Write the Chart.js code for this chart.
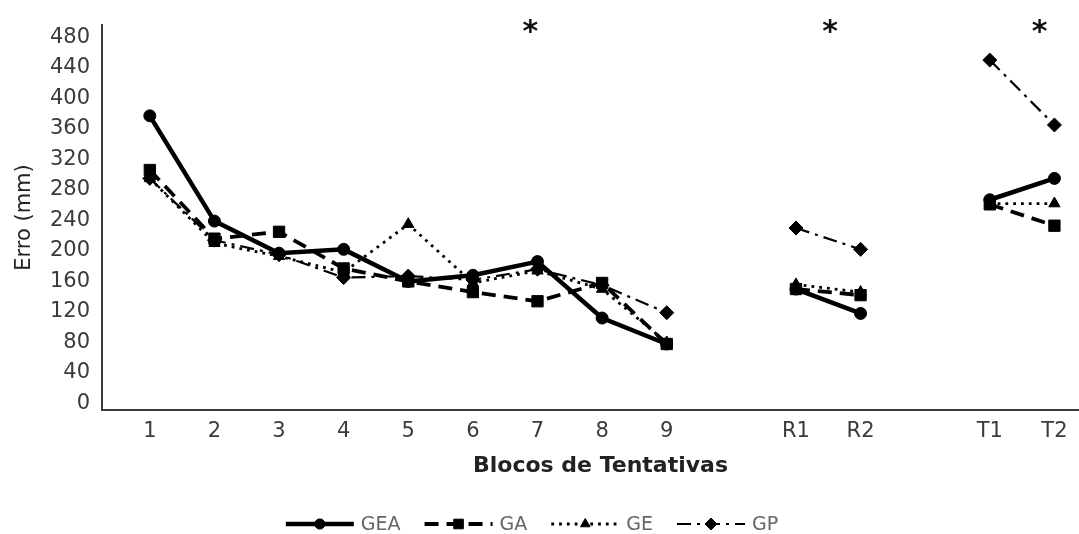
<!DOCTYPE html>
<html>
<head>
<meta charset="utf-8">
<script src="https://cdn.jsdelivr.net/npm/chart.js@4.4.1/dist/chart.umd.min.js"></script>
<style>
  html, body { margin: 0; padding: 0; background: #fff; overflow: hidden; }
  #wrap { position: relative; width: 1108px; height: 534px; }
</style>
</head>
<body>
<div id="wrap"><canvas id="chart"></canvas></div>
<script>
// Blocks of trials (blank slots separate acquisition, retention and transfer)
const blockLabels = ['1', '2', '3', '4', '5', '6', '7', '8', '9', '', 'R1', 'R2', '', 'T1', 'T2'];

// Mean error (mm) per group
const errorGEA = [377, 239, 197, 202, 160, 168, 186, 112, 78, null, 150, 118, null, 267, 295];
const errorGA  = [306, 216, 225, 177, 160, 146, 134, 158, 78, null, 150, 142, null, 261, 233];
const errorGE  = [295, 210, 193, 172, 235, 158, 174, 150, 80, null, 156, 146, null, 262, 262];
const errorGP  = [295, 214, 195, 165, 167, 162, 176, 155, 119, null, 230, 202, null, 450, 365];

const groupNames = ['GEA', 'GA', 'GE', 'GP'];
const yTicks = [0, 40, 80, 120, 160, 200, 240, 280, 320, 360, 400, 440, 480];

// Significant differences, placed along the block axis
const significance = [
  { at: 6.89, text: '*' },
  { at: 11.53, text: '*' },
  { at: 14.77, text: '*' }
];

const toPoints = arr => arr.map((v, i) => ({ x: i + 1, y: v }));

const baseFont = '"DejaVu Sans", "Liberation Sans", sans-serif';

const datasets = [
  { label: groupNames[0], data: toPoints(errorGEA), borderWidth: 4.5, borderDash: [],
    pointStyle: 'circle', pointRadius: 6 },
  { label: groupNames[1], data: toPoints(errorGA), borderWidth: 3.8, borderDash: [14, 8],
    pointStyle: 'rect', pointRadius: 8 },
  { label: groupNames[2], data: toPoints(errorGE), borderWidth: 2.8, borderDash: [2.8, 5],
    pointStyle: 'triangle', pointRadius: 6.5 },
  { label: groupNames[3], data: toPoints(errorGP), borderWidth: 2.2, borderDash: [14, 6, 3, 6],
    pointStyle: 'rectRot', pointRadius: 7 }
].map(ds => Object.assign({
  borderColor: '#000',
  backgroundColor: '#000',
  pointBackgroundColor: '#000',
  pointBorderColor: '#000',
  pointBorderWidth: 1,
  tension: 0,
  spanGaps: false,
  fill: false
}, ds));

// Asterisks above the plot
const starPlugin = {
  id: 'stars',
  afterDatasetsDraw(chart) {
    const ctx = chart.ctx;
    const xs = chart.scales.x;
    ctx.save();
    ctx.fillStyle = '#111';
    ctx.font = 'bold 30px ' + baseFont;
    ctx.textAlign = 'center';
    ctx.textBaseline = 'alphabetic';
    significance.forEach(s => {
      ctx.fillText(s.text, xs.getPixelForValue(s.at), 41);
    });
    ctx.restore();
  }
};

// Legend with a line sample and marker for each group
const lineLegend = {
  id: 'lineLegend',
  afterDraw(chart) {
    const ctx = chart.ctx;
    const sample = 68, gap = 7, between = 24, y = 524, center = 532;
    ctx.save();
    ctx.font = '19px ' + baseFont;
    const items = chart.data.datasets.map(ds => ({ ds, w: ctx.measureText(ds.label).width }));
    const total = items.reduce((s, it) => s + sample + gap + it.w, 0) + between * (items.length - 1);
    let x = center - total / 2;
    items.forEach(({ ds, w }) => {
      ctx.strokeStyle = '#000';
      ctx.fillStyle = '#000';
      ctx.lineWidth = ds.borderWidth;
      ctx.setLineDash(ds.borderDash);
      ctx.beginPath();
      ctx.moveTo(x, y);
      ctx.lineTo(x + sample, y);
      ctx.stroke();
      ctx.setLineDash([]);
      const cx = x + sample / 2;
      const r = ds.pointRadius * 0.85;
      if (Chart.helpers && Chart.helpers.drawPoint) {
        ctx.lineWidth = 1;
        Chart.helpers.drawPoint(ctx, { pointStyle: ds.pointStyle, rotation: 0, radius: r, borderWidth: 1 }, cx, y);
      } else {
        ctx.beginPath();
        ctx.arc(cx, y, r, 0, Math.PI * 2);
        ctx.fill();
      }
      ctx.fillStyle = '#666';
      ctx.textAlign = 'left';
      ctx.textBaseline = 'middle';
      ctx.fillText(ds.label, x + sample + gap, y + 1);
      x += sample + gap + w + between;
    });
    ctx.restore();
  }
};

new Chart(document.getElementById('chart'), {
  type: 'line',
  data: { datasets },
  plugins: [starPlugin, lineLegend],
  options: {
    responsive: true,
    maintainAspectRatio: false,
    animation: false,
    layout: { padding: { top: 25, bottom: 44, left: 0, right: 0 } },
    plugins: {
      legend: { display: false },
      tooltip: { enabled: false }
    },
    scales: {
      x: {
        type: 'linear',
        min: 0.26,
        max: 15.69,
        grid: { display: false, drawTicks: false },
        border: { display: true, color: '#3a3a3a', width: 2 },
        afterBuildTicks: s => { s.ticks = blockLabels.map((_, i) => ({ value: i + 1 })); },
        afterFit: s => { s.height = 80; },
        ticks: {
          autoSkip: false,
          maxRotation: 0,
          padding: 9,
          color: '#3a3a3a',
          font: { family: baseFont, size: 21 },
          callback: v => blockLabels[Math.round(v) - 1] ?? ''
        },
        title: {
          display: true,
          text: 'Blocos de Tentativas',
          color: '#222',
          font: { family: baseFont, size: 22, weight: 'bold' },
          padding: { top: 4, bottom: 11 }
        }
      },
      y: {
        min: -8.5,
        max: 496,
        grid: { display: false, drawTicks: false },
        border: { display: true, color: '#3a3a3a', width: 2 },
        afterBuildTicks: s => { s.ticks = yTicks.map(v => ({ value: v })); },
        afterFit: s => { s.width = 102; },
        ticks: {
          padding: 12,
          color: '#3a3a3a',
          font: { family: baseFont, size: 21 }
        },
        title: {
          display: true,
          text: 'Erro (mm)',
          color: '#222',
          font: { family: baseFont, size: 21 },
          padding: { top: 12, bottom: 0 }
        }
      }
    }
  }
});
</script>
</body>
</html>
